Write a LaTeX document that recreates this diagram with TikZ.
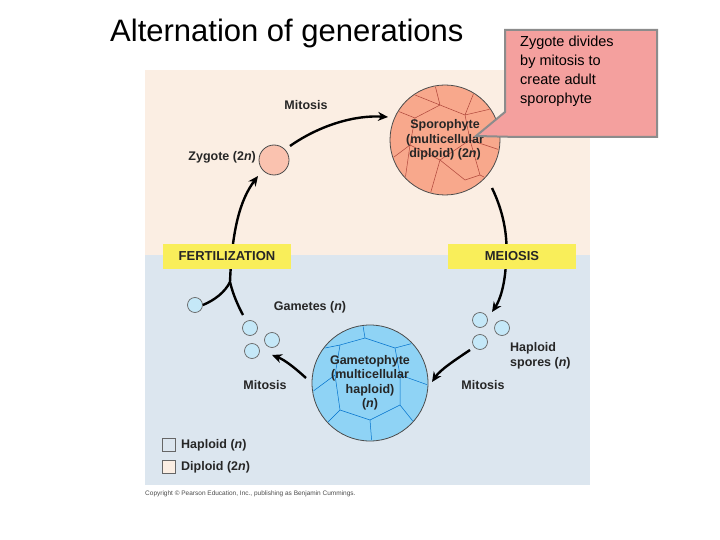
\documentclass[tikz,border=0pt]{standalone}
\usepackage{fontspec}
\setmainfont{Liberation Sans}
\usetikzlibrary{arrows.meta}
\definecolor{beige}{HTML}{FBEEE3}
\definecolor{bluebg}{HTML}{DCE6EF}
\definecolor{ybox}{HTML}{F9EE5A}
\definecolor{sporo}{HTML}{F8A88C}
\definecolor{gameto}{HTML}{8FD3F5}
\definecolor{cell}{HTML}{9ED9F3}
\definecolor{callout}{HTML}{F4A09E}
\begin{document}
\begin{tikzpicture}[x=1pt,y=-1pt,
  lbl/.style={font=\bfseries\fontsize{12.5}{14.5}\selectfont,text=black!85,align=center,inner sep=0},
  arr/.style={line width=2.4pt,-{Stealth[length=10pt,width=9pt]}},
  ln/.style={line width=2.4pt},
  hap/.style={circle,draw=black!60,fill=cell!60,minimum size=15pt,inner sep=0,line width=0.7pt},
  ybx/.style={fill=ybox,font=\bfseries\fontsize{13}{14}\selectfont,text=black!85,minimum width=128pt,minimum height=25pt,inner sep=0}]
\useasboundingbox (0,0) rectangle (720,540);
\fill[white] (0,0) rectangle (720,540);
\node[anchor=west,font=\fontsize{31}{34}\selectfont,inner sep=0] (title) at (110,33) {Alternation of generations};
% panels
\fill[beige] (145,70) rectangle (590,255);
\fill[bluebg] (145,255) rectangle (590,485);
% circles
\node[circle,draw=black!70,line width=0.8pt,fill=sporo,minimum size=110pt,inner sep=0] (sp) at (445,140) {};
\begin{scope}
\clip (445,140) circle (54);
\draw[sporo!60!red!70!black,line width=0.5pt] (395,110)--(415,118)--(440,105)--(465,115)--(495,108) (415,118)--(410,145)--(390,160) (440,105)--(435,85) (465,115)--(470,140)--(500,150) (410,145)--(440,160)--(470,140) (440,160)--(430,195) (470,140)--(480,175)--(500,185) (440,160)--(465,180)--(480,175) (410,145)--(405,180) (415,95)--(440,105) (465,115)--(475,90);
\end{scope}
\node[lbl] at (sp) {Sporophyte\\(multicellular\\diploid) (2\textit{n})};
\node[circle,draw=black!70,line width=0.8pt,fill=sporo!70,minimum size=30pt,inner sep=0] (zy) at (274,160) {};
\node[circle,draw=black!70,line width=0.8pt,fill=gameto,minimum size=116pt,inner sep=0] (ga) at (370,383) {};
\begin{scope}
\clip (370,383) circle (57);
\draw[blue!45!cyan!80!black,line width=0.5pt] (315,350)--(340,345)--(365,338)--(395,348)--(425,340) (340,345)--(335,375)--(312,392) (365,338)--(362,320) (395,348)--(400,375)--(428,385) (335,375)--(340,410)--(320,430) (340,410)--(370,420)--(400,405)--(400,375) (370,420)--(372,445) (400,405)--(420,430);
\end{scope}
\node[lbl] at (ga) {Gametophyte\\(multicellular\\haploid)\\(\textit{n})};
% haploid cells
\node[hap] (g0) at (195,305) {};
\node[hap] (g1) at (250,328) {};
\node[hap] (g2) at (272,340) {};
\node[hap] (g3) at (252,351) {};
\node[hap] (s1) at (480,320) {};
\node[hap] (s2) at (502,328) {};
\node[hap] (s3) at (480,342) {};
% arrows
\coordinate (j) at (230,282);
\draw[arr] (290,146) .. controls (320,125) and (355,115) .. (388,117);
\draw[ln] (492,188) .. controls (505,215) and (508,240) .. (506,262);
\draw[arr] (506,262) .. controls (505,285) and (500,300) .. (492,312);
\draw[arr] (470,350) .. controls (455,360) and (440,370) .. (432,382);
\draw[arr] (306,378) .. controls (295,368) and (285,360) .. (272,355);
\draw[ln] (g0.east) .. controls (215,300) and (225,292) .. (j);
\draw[ln] (243,315) .. controls (235,300) and (232,290) .. (j);
\draw[arr] (j) .. controls (232,230) and (240,200) .. (258,176);
% boxes
\node[ybx] (fert) at (227,256) {FERTILIZATION};
\node[ybx] (mei) at (512,256) {MEIOSIS};
% labels
\node[lbl] at (306,105) {Mitosis};
\node[lbl,anchor=east] at (256,157) {Zygote (2\textit{n})};
\node[lbl] at (310,307) {Gametes (\textit{n})};
\node[lbl,align=left,anchor=west] at (510,356) {Haploid\\spores (\textit{n})};
\node[lbl] at (265,385) {Mitosis};
\node[lbl] at (483,385) {Mitosis};
\draw[black!60,fill=bluebg] (162,438) rectangle (175,451);
\node[lbl,anchor=west] at (181,445) {Haploid (\textit{n})};
\draw[black!60,fill=beige] (162,460) rectangle (175,473);
\node[lbl,anchor=west] at (181,467) {Diploid (2\textit{n})};
\node[anchor=west,font=\fontsize{6.5}{7}\selectfont,text=black!70,inner sep=0] at (145,494) {Copyright \copyright\ Pearson Education, Inc., publishing as Benjamin Cummings.};
% callout
\draw[black!45,line width=2pt,fill=callout] (505,30) -- (657,30) -- (657,137) -- (518,137) -- (476,136) -- (505,112) -- cycle;
\node[anchor=north west,align=left,font=\fontsize{14.5}{19}\selectfont,inner sep=0] (co) at (520,36) {Zygote divides\\by mitosis to\\create adult\\sporophyte};
\end{tikzpicture}
\end{document}
